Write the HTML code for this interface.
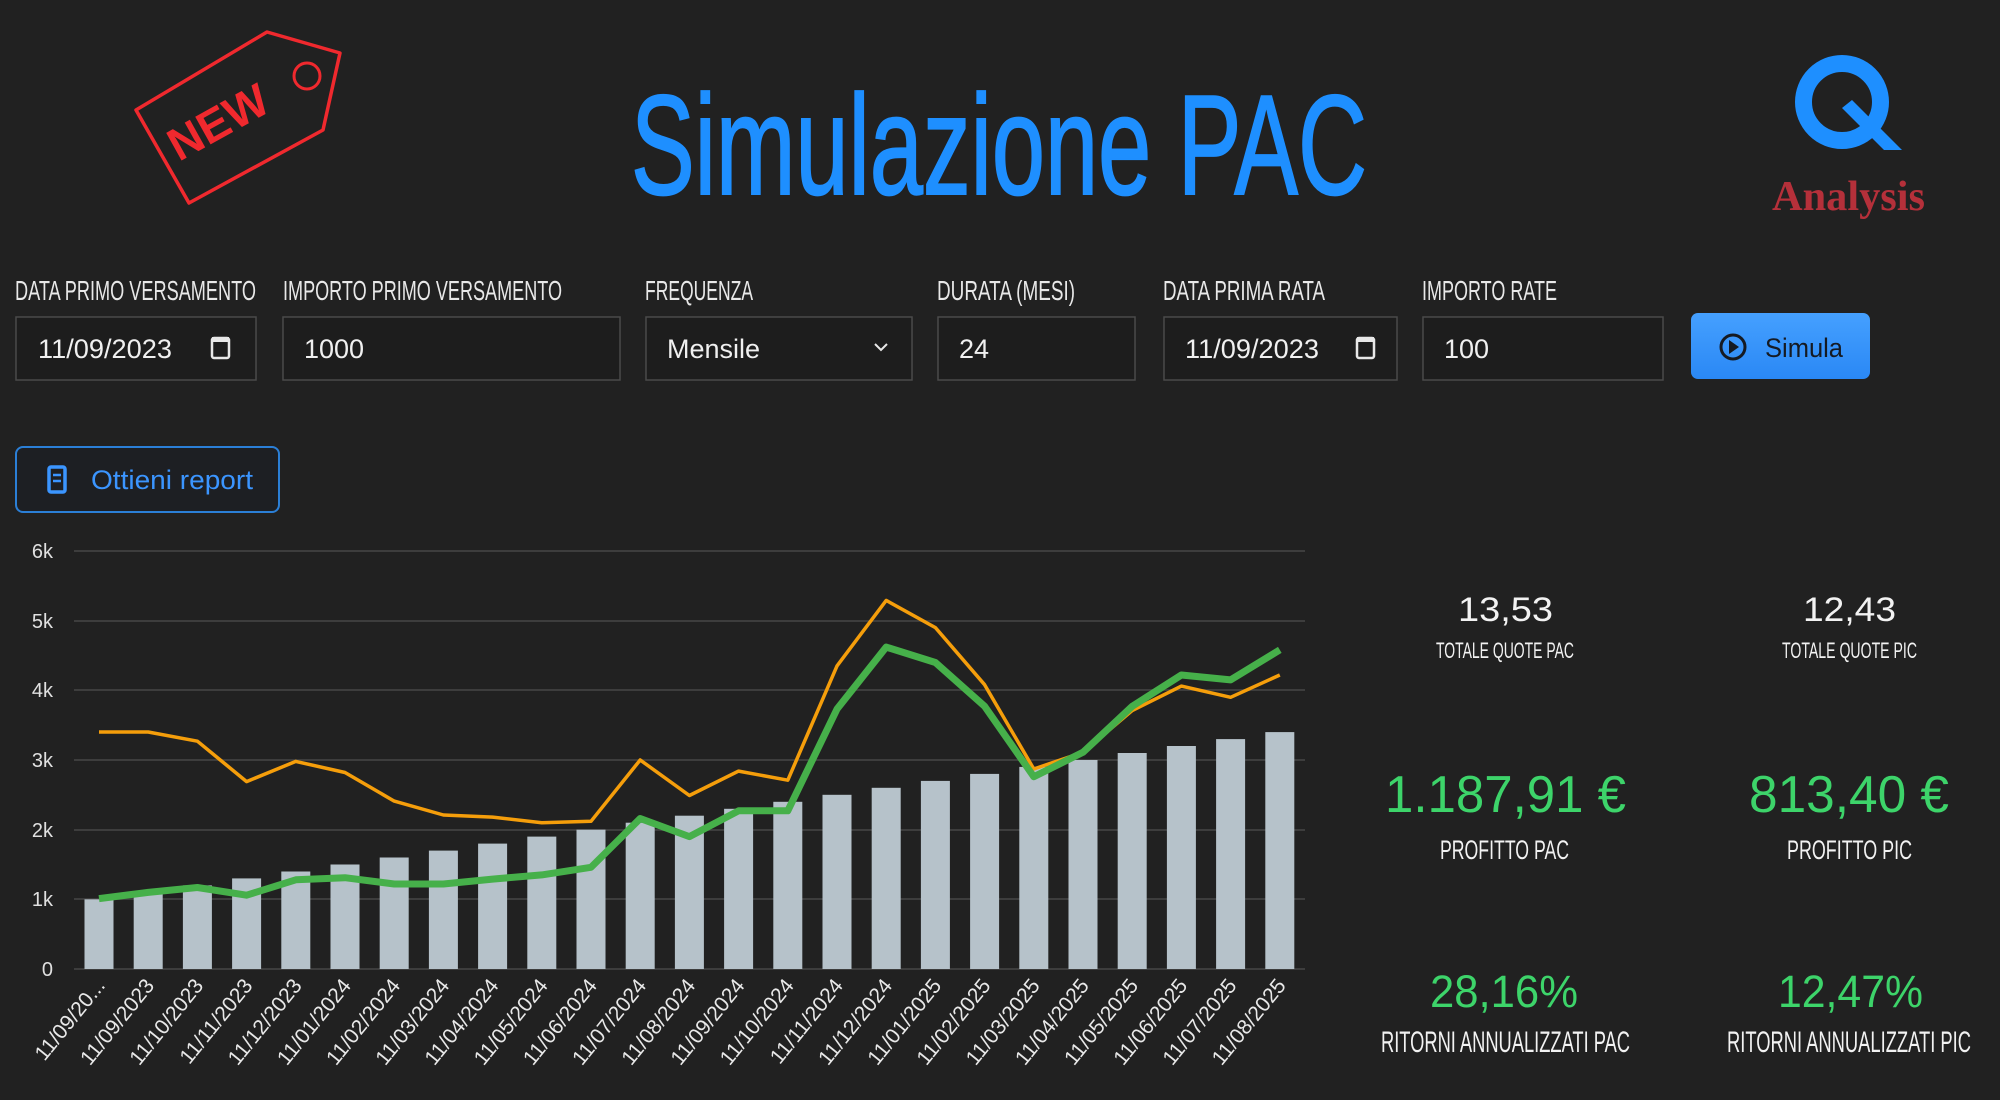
<!DOCTYPE html>
<html><head><meta charset="utf-8"><style>
html,body{margin:0;padding:0;background:#212121;}
svg{display:block}
</style></head><body>
<svg width="2000" height="1100" viewBox="0 0 2000 1100" xmlns="http://www.w3.org/2000/svg" font-family="Liberation Sans, sans-serif">
<rect width="2000" height="1100" fill="#212121"/>
<!-- NEW tag -->
<polygon points="136,110 267,32 340,53 323,130 189,203" fill="none" stroke="#f0292e" stroke-width="3.5" stroke-linejoin="round"/>
<circle cx="307" cy="76" r="13" fill="none" stroke="#f0292e" stroke-width="3"/>
<text x="218" y="138" font-size="46" font-weight="bold" fill="#f0292e" text-anchor="middle" transform="rotate(-29 218 122)">NEW</text>
<!-- Title -->
<text x="631" y="194" font-size="142" fill="#1e8fff" stroke="#1e8fff" stroke-width="2" textLength="736" lengthAdjust="spacingAndGlyphs">Simulazione PAC</text>
<!-- Logo -->
<circle cx="1842" cy="102" r="38.5" fill="none" stroke="#1e8fff" stroke-width="17"/>
<polygon points="1842,108 1852,100 1902,150 1884,150" fill="#1e8fff"/>
<text x="1772" y="210" font-family="Liberation Serif, serif" font-weight="bold" font-size="42" fill="#b5303a" textLength="153" lengthAdjust="spacingAndGlyphs">Analysis</text>
<!-- Labels -->
<g fill="#e8e8e8" font-size="28">
<text x="15" y="300" textLength="241" lengthAdjust="spacingAndGlyphs">DATA PRIMO VERSAMENTO</text>
<text x="283" y="300" textLength="279" lengthAdjust="spacingAndGlyphs">IMPORTO PRIMO VERSAMENTO</text>
<text x="645" y="300" textLength="108" lengthAdjust="spacingAndGlyphs">FREQUENZA</text>
<text x="937" y="300" textLength="138" lengthAdjust="spacingAndGlyphs">DURATA (MESI)</text>
<text x="1163" y="300" textLength="162" lengthAdjust="spacingAndGlyphs">DATA PRIMA RATA</text>
<text x="1422" y="300" textLength="135" lengthAdjust="spacingAndGlyphs">IMPORTO RATE</text>
</g>
<!-- Inputs -->
<g fill="#1d1d1d" stroke="#4a4a4a" stroke-width="1.5">
<rect x="16" y="317" width="240" height="63"/>
<rect x="283" y="317" width="337" height="63"/>
<rect x="646" y="317" width="266" height="63"/>
<rect x="938" y="317" width="197" height="63"/>
<rect x="1164" y="317" width="233" height="63"/>
<rect x="1423" y="317" width="240" height="63"/>
</g>
<g fill="#f0f0f0" font-size="27">
<text x="38" y="358" textLength="134" lengthAdjust="spacingAndGlyphs">11/09/2023</text>
<text x="304" y="358">1000</text>
<text x="667" y="358">Mensile</text>
<text x="959" y="358">24</text>
<text x="1185" y="358" textLength="134" lengthAdjust="spacingAndGlyphs">11/09/2023</text>
<text x="1444" y="358">100</text>
</g>
<g fill="none" stroke="#e8e8e8" stroke-width="2.5">
<rect x="212" y="338" width="17" height="20" rx="2"/>
<rect x="1357" y="338" width="17" height="20" rx="2"/>
<polyline points="875,344 881,350 887,344" stroke-width="2"/>
</g>
<rect x="212" y="337" width="17" height="5" fill="#e8e8e8"/>
<rect x="1357" y="337" width="17" height="5" fill="#e8e8e8"/>
<!-- Simula -->
<defs><linearGradient id="bg" x1="0" y1="0" x2="0" y2="1"><stop offset="0" stop-color="#45a0ff"/><stop offset="1" stop-color="#2a88f5"/></linearGradient></defs>
<rect x="1691" y="313" width="179" height="66" rx="7" fill="url(#bg)"/>
<circle cx="1733" cy="347" r="12" fill="none" stroke="#151a22" stroke-width="3"/>
<polygon points="1729,340 1739,347 1729,354" fill="#151a22"/>
<text x="1765" y="357" font-size="27" fill="#151a22" textLength="78" lengthAdjust="spacingAndGlyphs">Simula</text>
<!-- Ottieni report -->
<rect x="16" y="447" width="263" height="65" rx="7" fill="#1d1f23" stroke="#2b7fd6" stroke-width="2"/>
<rect x="49" y="467" width="16" height="25" rx="2" fill="none" stroke="#3b95ff" stroke-width="3.5"/>
<line x1="53" y1="475" x2="61" y2="475" stroke="#3b95ff" stroke-width="2.5"/>
<line x1="53" y1="481" x2="61" y2="481" stroke="#3b95ff" stroke-width="2.5"/>
<text x="91" y="489" font-size="27" fill="#3b95ff" textLength="162" lengthAdjust="spacingAndGlyphs">Ottieni report</text>
<!-- Chart grid -->
<g stroke="#3d3d3d" stroke-width="2">
<line x1="74" y1="551" x2="1305" y2="551"/>
<line x1="74" y1="621" x2="1305" y2="621"/>
<line x1="74" y1="690" x2="1305" y2="690"/>
<line x1="74" y1="760" x2="1305" y2="760"/>
<line x1="74" y1="830" x2="1305" y2="830"/>
<line x1="74" y1="899" x2="1305" y2="899"/>
<line x1="74" y1="969" x2="1305" y2="969"/>
</g>
<g fill="#e0e0e0" font-size="20" text-anchor="end">
<text x="53" y="558">6k</text><text x="53" y="628">5k</text><text x="53" y="697">4k</text>
<text x="53" y="767">3k</text><text x="53" y="837">2k</text><text x="53" y="906">1k</text><text x="53" y="976">0</text>
</g>
<g fill="#b6c2ca">
<rect x="84.5" y="899.3" width="29" height="69.7"/>
<rect x="133.7" y="892.4" width="29" height="76.6"/>
<rect x="182.9" y="885.4" width="29" height="83.6"/>
<rect x="232.1" y="878.4" width="29" height="90.6"/>
<rect x="281.3" y="871.5" width="29" height="97.5"/>
<rect x="330.5" y="864.5" width="29" height="104.5"/>
<rect x="379.7" y="857.5" width="29" height="111.5"/>
<rect x="428.9" y="850.6" width="29" height="118.4"/>
<rect x="478.1" y="843.6" width="29" height="125.4"/>
<rect x="527.3" y="836.6" width="29" height="132.4"/>
<rect x="576.5" y="829.7" width="29" height="139.3"/>
<rect x="625.7" y="822.7" width="29" height="146.3"/>
<rect x="674.9" y="815.7" width="29" height="153.3"/>
<rect x="724.1" y="808.8" width="29" height="160.2"/>
<rect x="773.3" y="801.8" width="29" height="167.2"/>
<rect x="822.5" y="794.8" width="29" height="174.2"/>
<rect x="871.7" y="787.8" width="29" height="181.2"/>
<rect x="920.9" y="780.9" width="29" height="188.1"/>
<rect x="970.1" y="773.9" width="29" height="195.1"/>
<rect x="1019.3" y="766.9" width="29" height="202.1"/>
<rect x="1068.5" y="760.0" width="29" height="209.0"/>
<rect x="1117.7" y="753.0" width="29" height="216.0"/>
<rect x="1166.9" y="746.0" width="29" height="223.0"/>
<rect x="1216.1" y="739.1" width="29" height="229.9"/>
<rect x="1265.3" y="732.1" width="29" height="236.9"/>
</g>
<polyline fill="none" stroke="#f59e0b" stroke-width="3.5" stroke-linejoin="round" points="99,732 148.2,732 197.4,741.2 246.6,781.6 295.8,761.4 345,772.5 394.2,801.1 443.4,815 492.6,817.1 541.8,822.7 591,821.3 640.2,760 689.4,795.5 738.6,771.1 787.8,780.2 837,665.9 886.2,600.4 935.4,627.6 984.6,684.7 1033.8,769 1083,752.3 1132.2,710.5 1181.4,686.1 1230.6,697.3 1279.8,675"/>
<polyline fill="none" stroke="#46b04a" stroke-width="7" stroke-linejoin="round" points="99,898.6 148.2,892.4 197.4,887.5 246.6,895.2 295.8,879.8 345,877.7 394.2,884 443.4,884 492.6,879.1 541.8,874.9 591,867.3 640.2,818.5 689.4,836.6 738.6,810.8 787.8,810.8 837,709.1 886.2,647.1 935.4,662.5 984.6,706.3 1033.8,776.7 1083,752.3 1132.2,706.3 1181.4,675 1230.6,679.9 1279.8,649.9"/>
<g fill="#e8e8e8" font-size="21" text-anchor="end">
<text transform="translate(106,986) rotate(-51)">11/09/20...</text>
<text transform="translate(155.2,986) rotate(-51)">11/09/2023</text>
<text transform="translate(204.4,986) rotate(-51)">11/10/2023</text>
<text transform="translate(253.6,986) rotate(-51)">11/11/2023</text>
<text transform="translate(302.8,986) rotate(-51)">11/12/2023</text>
<text transform="translate(352,986) rotate(-51)">11/01/2024</text>
<text transform="translate(401.2,986) rotate(-51)">11/02/2024</text>
<text transform="translate(450.4,986) rotate(-51)">11/03/2024</text>
<text transform="translate(499.6,986) rotate(-51)">11/04/2024</text>
<text transform="translate(548.8,986) rotate(-51)">11/05/2024</text>
<text transform="translate(598,986) rotate(-51)">11/06/2024</text>
<text transform="translate(647.2,986) rotate(-51)">11/07/2024</text>
<text transform="translate(696.4,986) rotate(-51)">11/08/2024</text>
<text transform="translate(745.6,986) rotate(-51)">11/09/2024</text>
<text transform="translate(794.8,986) rotate(-51)">11/10/2024</text>
<text transform="translate(844,986) rotate(-51)">11/11/2024</text>
<text transform="translate(893.2,986) rotate(-51)">11/12/2024</text>
<text transform="translate(942.4,986) rotate(-51)">11/01/2025</text>
<text transform="translate(991.6,986) rotate(-51)">11/02/2025</text>
<text transform="translate(1040.8,986) rotate(-51)">11/03/2025</text>
<text transform="translate(1090,986) rotate(-51)">11/04/2025</text>
<text transform="translate(1139.2,986) rotate(-51)">11/05/2025</text>
<text transform="translate(1188.4,986) rotate(-51)">11/06/2025</text>
<text transform="translate(1237.6,986) rotate(-51)">11/07/2025</text>
<text transform="translate(1286.8,986) rotate(-51)">11/08/2025</text>
</g>
<!-- Stats -->
<g fill="#f2f2f2">
<text x="1458" y="621" font-size="34" textLength="95" lengthAdjust="spacingAndGlyphs">13,53</text>
<text x="1803" y="621" font-size="34" textLength="93" lengthAdjust="spacingAndGlyphs">12,43</text>
<text x="1436" y="658" font-size="22" textLength="138" lengthAdjust="spacingAndGlyphs">TOTALE QUOTE PAC</text>
<text x="1782" y="658" font-size="22" textLength="135" lengthAdjust="spacingAndGlyphs">TOTALE QUOTE PIC</text>
<text x="1440" y="859" font-size="27" textLength="129" lengthAdjust="spacingAndGlyphs">PROFITTO PAC</text>
<text x="1787" y="859" font-size="27" textLength="125" lengthAdjust="spacingAndGlyphs">PROFITTO PIC</text>
<text x="1381" y="1052" font-size="30" textLength="249" lengthAdjust="spacingAndGlyphs">RITORNI ANNUALIZZATI PAC</text>
<text x="1727" y="1052" font-size="30" textLength="244" lengthAdjust="spacingAndGlyphs">RITORNI ANNUALIZZATI PIC</text>
</g>
<g fill="#3dd46a">
<text x="1385" y="812" font-size="52" textLength="241" lengthAdjust="spacingAndGlyphs">1.187,91 €</text>
<text x="1749" y="812" font-size="52" textLength="200" lengthAdjust="spacingAndGlyphs">813,40 €</text>
<text x="1430" y="1007" font-size="45" textLength="148" lengthAdjust="spacingAndGlyphs">28,16%</text>
<text x="1778" y="1007" font-size="45" textLength="145" lengthAdjust="spacingAndGlyphs">12,47%</text>
</g>
</svg>
</body></html>
